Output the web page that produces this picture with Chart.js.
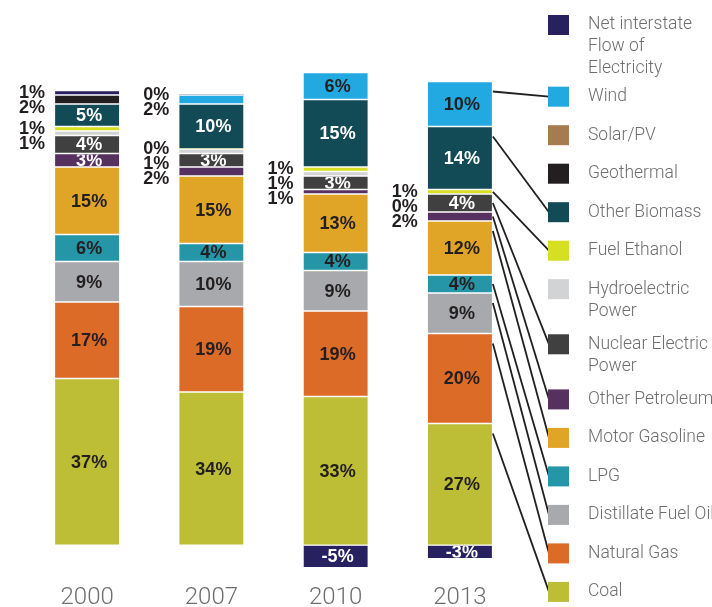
<!DOCTYPE html>
<html>
<head>
<meta charset="utf-8">
<script src="https://cdn.jsdelivr.net/npm/chart.js@4.4.0/dist/chart.umd.min.js"></script>
<style>
  html, body { margin: 0; padding: 0; background: #fff; }
</style>
</head>
<body>
<canvas id="grafico" width="712" height="607"></canvas>
<script>
const years = ['2000', '2007', '2010', '2013']

// shares in %, bottom of the stack first (null = not shown)
const coal = [37, 34, 33, 27]
const naturalGas = [17, 19, 19, 20]
const distillateFuelOil = [9, 10, 9, 9]
const lpg = [6, 4, 4, 4]
const motorGasoline = [15, 15, 13, 12]
const otherPetroleum = [3, 2, 1, 2]
const nuclear = [4, 3, 3, 4]
const hydro = [1, 1, 1, 0]
const fuelEthanol = [1, 0, 1, 1]
const otherBiomass = [5, 10, 15, 14]
const geothermal = [2, null, null, null]
const solar = [null, null, null, null]
const wind = [null, 2, 6, 10]
const netInterstate = [1, 0, -5, -3]

const series = [
  { name: 'Coal', data: coal, color: '#bdbe35', text: '#231f20' },
  { name: 'Natural Gas', data: naturalGas, color: '#dc6b27', text: '#231f20' },
  { name: 'Distillate Fuel Oil', data: distillateFuelOil, color: '#a7a9ac', text: '#231f20' },
  { name: 'LPG', data: lpg, color: '#2596a8', text: '#231f20' },
  { name: 'Motor Gasoline', data: motorGasoline, color: '#e0a526', text: '#231f20' },
  { name: 'Other Petroleum', data: otherPetroleum, color: '#56305f', text: '#ffffff' },
  { name: 'Nuclear Electric\nPower', data: nuclear, color: '#404041', text: '#ffffff' },
  { name: 'Hydroelectric\nPower', data: hydro, color: '#d1d3d4', text: '#231f20' },
  { name: 'Fuel Ethanol', data: fuelEthanol, color: '#d7df23', text: '#231f20' },
  { name: 'Other Biomass', data: otherBiomass, color: '#124a55', text: '#ffffff' },
  { name: 'Geothermal', data: geothermal, color: '#231f20', text: '#ffffff' },
  { name: 'Solar/PV', data: solar, color: '#a67b50', text: '#ffffff' },
  { name: 'Wind', data: wind, color: '#22a9e1', text: '#231f20' },
  { name: 'Net interstate\nFlow of\nElectricity', data: netInterstate, color: '#27215f', text: '#ffffff' },
]

const boldFont = 'bold 18px "Liberation Sans", Arial, sans-serif'
const lightFont = '300 17.5px Roboto, "Liberation Sans", sans-serif'

// percentages inside the bars, small ones to the left
const etiquetas = {
  id: 'etiquetas',
  afterDatasetsDraw(chart) {
    const ctx = chart.ctx
    const fuera = years.map(() => [])
    ctx.save()
    ctx.font = boldFont
    ctx.textBaseline = 'middle'
    chart.data.datasets.forEach((ds, i) => {
      const meta = chart.getDatasetMeta(i)
      meta.data.forEach((bar, j) => {
        const v = ds.data[j]
        if (v === null || v === undefined) return
        const top = Math.min(bar.y, bar.base)
        const bottom = Math.max(bar.y, bar.base)
        const left = bar.x - bar.width / 2
        if (v >= 3 || v < 0) {
          ctx.save()
          ctx.beginPath()
          ctx.rect(left, top + 1, bar.width, bottom - top - 2)
          ctx.clip()
          ctx.fillStyle = series[i].text
          ctx.textAlign = 'center'
          ctx.fillText(v + '%', bar.x + 2, (top + bottom) / 2 + 1)
          ctx.restore()
        } else {
          fuera[j].push({ text: v + '%', y: (top + bottom) / 2, x: left, order: i })
        }
      })
    })
    ctx.fillStyle = '#231f20'
    ctx.textAlign = 'right'
    fuera.forEach(lista => {
      lista.sort((a, b) => a.y - b.y || b.order - a.order)
      let prev = -Infinity
      lista.forEach(e => {
        const y = Math.max(e.y, prev + 15)
        ctx.fillText(e.text, e.x - 10, y)
        prev = y
      })
    })
    ctx.restore()
  }
}

// legend on the right, with lines from the last bar
const leyenda = {
  id: 'leyenda',
  afterDraw(chart) {
    const ctx = chart.ctx
    const items = series.map((s, i) => ({ s, i })).reverse()
    let y = 25
    const pos = []
    items.forEach(it => {
      const lines = it.s.name.split('\n')
      pos.push({ it, y, lines })
      y += 38.5 + 16.6 * (lines.length - 1)
    })
    const last = years.length - 1
    ctx.save()
    ctx.strokeStyle = '#231f20'
    ctx.lineWidth = 1.8
    pos.forEach(p => {
      const v = p.it.s.data[last]
      if (!(v > 0)) return
      const bar = chart.getDatasetMeta(p.it.i).data[last]
      const top = Math.min(bar.y, bar.base)
      const h = Math.abs(bar.base - bar.y)
      ctx.beginPath()
      ctx.moveTo(bar.x + bar.width / 2 + 1, top + Math.min(h / 2, 10))
      ctx.lineTo(549, p.y)
      ctx.stroke()
    })
    ctx.font = lightFont
    ctx.textBaseline = 'middle'
    ctx.textAlign = 'left'
    pos.forEach(p => {
      ctx.fillStyle = p.it.s.color
      ctx.fillRect(548, p.y - 10, 21, 20)
      ctx.fillStyle = '#6d6e71'
      p.lines.forEach((t, k) => ctx.fillText(t, 588, p.y + k * 22))
    })
    ctx.restore()
  }
}

const ctx = document.getElementById('grafico').getContext('2d')
new Chart(ctx, {
  type: 'bar',
  data: {
    labels: years,
    datasets: series.map(s => ({
      label: s.name,
      data: s.data,
      backgroundColor: s.color,
      borderColor: '#ffffff',
      borderWidth: { top: 1, bottom: 1, left: 0, right: 0 },
      borderSkipped: false,
      barThickness: 64
    }))
  },
  options: {
    responsive: false,
    animation: false,
    devicePixelRatio: 1,
    layout: { padding: { left: 25, right: 190, top: 50, bottom: -3 } },
    plugins: { legend: { display: false }, tooltip: { enabled: false } },
    scales: {
      x: {
        stacked: true,
        grid: { display: false, drawTicks: false },
        border: { display: false },
        ticks: {
          color: '#6d6e71',
          padding: 0,
          font: { family: 'Roboto', size: 24, weight: 300, lineHeight: 1 }
        }
      },
      y: { stacked: true, display: false, min: -9.1, max: 110 }
    }
  },
  plugins: [etiquetas, leyenda]
})
</script>
</body>
</html>
